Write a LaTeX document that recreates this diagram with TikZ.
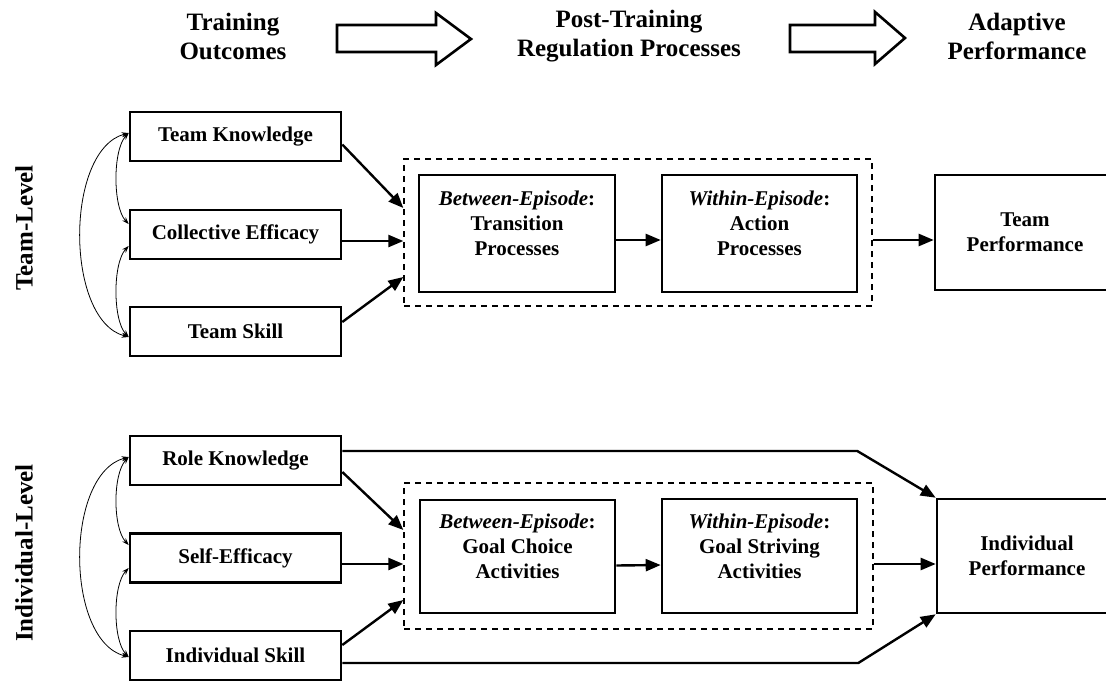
\documentclass[tikz,border=0pt]{standalone}
\usepackage{fontspec}
\setmainfont{Liberation Serif}
\usetikzlibrary{arrows.meta}
\begin{document}
\begin{tikzpicture}[x=1pt,y=-1pt,
  box/.style={draw, line width=2.6pt, rectangle, inner sep=0pt, minimum width=211pt, minimum height=49pt,
    font=\bfseries\fontsize{21}{25}\selectfont, align=center},
  ibox/.style={draw, line width=2.6pt, rectangle, inner sep=0pt},
  itxt/.style={font=\bfseries\fontsize{21}{25}\selectfont, align=center, inner sep=0pt},
  dbox/.style={draw, line width=1.3pt, dash pattern=on 6pt off 5pt, rectangle, inner sep=0pt},
  arr/.style={line width=2.4pt, -{Triangle[length=15pt,width=12pt]}},
  dbl/.style={line width=0.8pt, {Stealth[length=7pt,width=5pt]}-{Stealth[length=7pt,width=5pt]}},
  harrow/.style={draw, line width=2.6pt, fill=white, line join=miter},
  htxt/.style={font=\bfseries\fontsize{25}{29}\selectfont, align=center, inner sep=0pt},
  side/.style={font=\bfseries\fontsize{25}{29}\selectfont, rotate=90, inner sep=0pt}
]
\useasboundingbox (0,0) rectangle (1106,683);
\clip (0,0) rectangle (1106,683);

% header
\node[htxt] (h1) at (233,36) {Training\\Outcomes};
\node[htxt] (h2) at (629,36) {Post-Training\\Regulation Processes};
\node[htxt] (h3) at (1017,36) {Adaptive\\Performance};
\draw[harrow] (337,25) -- (436,25) -- (436,13) -- (471,39) -- (436,65) -- (436,52) -- (337,52) -- cycle;
\draw[harrow] (790,25) -- (875,25) -- (875,12) -- (905,38) -- (875,64) -- (875,52) -- (790,52) -- cycle;

% side labels
\node[side] (sl1) at (24,228) {Team-Level};
\node[side] (sl2) at (24,553) {Individual-Level};

% team level
\node[box] (tk) at (235.5,136.5) {Team Knowledge};
\node[box] (ce) at (235.5,234.5) {Collective Efficacy};
\node[box] (ts) at (235.5,331.5) {Team Skill};
\node[dbox, minimum width=468pt, minimum height=147pt] (dt) at (638,232.5) {};
\node[ibox, minimum width=196pt, minimum height=117pt] (tr) at (517,233.5) {};
\node[itxt] (trt) at (517,223) {\textit{Between-Episode}:\\Transition\\Processes};
\node[ibox, minimum width=195pt, minimum height=117pt] (ac) at (759.5,233.5) {};
\node[itxt] (act) at (759.5,223) {\textit{Within-Episode}:\\Action\\Processes};
\node[ibox, minimum width=180pt, minimum height=115pt, itxt] (tp) at (1025,232.5) {Team\\Performance};

% individual level
\node[box] (rk) at (235.5,460.5) {Role Knowledge};
\node[box] (se) at (235.5,558) {Self-Efficacy};
\node[box] (isk) at (235.5,655.5) {Individual Skill};
\node[dbox, minimum width=469pt, minimum height=146pt] (di) at (638.5,556) {};
\node[ibox, minimum width=195pt, minimum height=113pt] (gc) at (517.5,556.5) {};
\node[itxt] (gct) at (517.5,546) {\textit{Between-Episode}:\\Goal Choice\\Activities};
\node[ibox, minimum width=195pt, minimum height=114pt] (gs) at (759.5,556) {};
\node[itxt] (gst) at (759.5,546) {\textit{Within-Episode}:\\Goal Striving\\Activities};
\node[ibox, minimum width=180pt, minimum height=114pt, itxt] (ip) at (1027,556) {Individual\\Performance};

% team connectors
\draw[arr] ([yshift=-8pt]tk.east) -- ([yshift=24.5pt]dt.west);
\draw[arr] ([yshift=-6.5pt]ce.east) -- ([yshift=-8.5pt]dt.west);
\draw[arr] ([yshift=9.5pt]ts.east) -- ([yshift=-44.5pt]dt.west);
\draw[arr] ([yshift=-6.5pt]tr.east) -- ([yshift=-6.5pt]ac.west);
\draw[arr] ([yshift=-7.5pt]dt.east) -- ([yshift=-7.5pt]tp.west);

\draw[dbl] ([yshift=3.5pt]tk.west) .. controls +(-16,17) and +(-16,-17) .. ([yshift=10.5pt]ce.west);
\draw[dbl] ([yshift=3.5pt]tk.west) .. controls +(-64,17) and +(-64,-17) .. ([yshift=-5.5pt]ts.west);
\draw[dbl] ([yshift=-11.5pt]ce.west) .. controls +(-16,17) and +(-16,-17) .. ([yshift=-5.5pt]ts.west);

% individual connectors
\draw[arr] ([yshift=-11.5pt]rk.east) -- ([yshift=26pt]di.west);
\draw[arr] ([yshift=-6pt]se.east) -- ([yshift=-8pt]di.west);
\draw[arr] ([yshift=10.5pt]isk.east) -- ([yshift=-44pt]di.west);
\draw[arr] ([yshift=-9pt]gc.east) -- ([yshift=-9pt]gs.west);
\draw[arr] ([yshift=-8pt]di.east) -- ([yshift=-8pt]ip.west);
\draw[arr, line join=miter] ([yshift=9.5pt]rk.east) -- ++(515,0) -- (ip.north west);
\draw[arr, line join=miter] ([yshift=-7.5pt]isk.east) -- ++(516,0) -- (ip.south west);

\draw[dbl] ([yshift=3.5pt]rk.west) .. controls +(-16,17) and +(-16,-17) .. ([yshift=13pt]se.west);
\draw[dbl] ([yshift=3.5pt]rk.west) .. controls +(-64,17) and +(-64,-17) .. ([yshift=-1.5pt]isk.west);
\draw[dbl] ([yshift=-10pt]se.west) .. controls +(-16,17) and +(-16,-17) .. ([yshift=-1.5pt]isk.west);
\end{tikzpicture}
\end{document}
